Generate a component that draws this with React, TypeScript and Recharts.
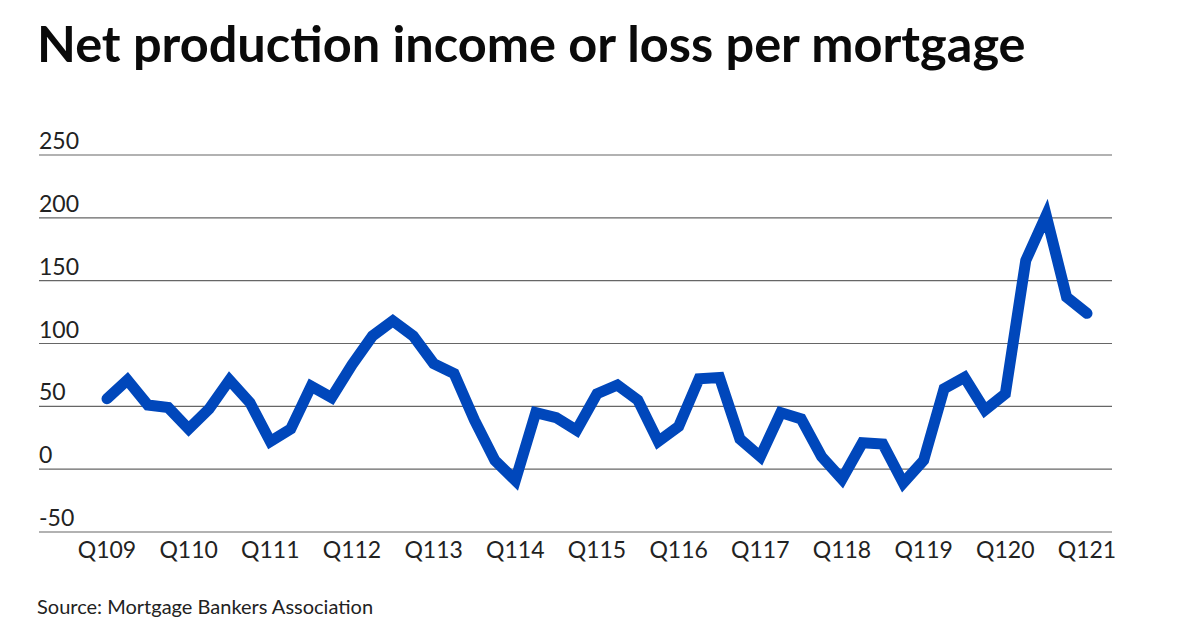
import { CartesianGrid, Line, LineChart, XAxis, YAxis } from "recharts";

const QUARTERS = [
  "Q109", "Q209", "Q309", "Q409",
  "Q110", "Q210", "Q310", "Q410",
  "Q111", "Q211", "Q311", "Q411",
  "Q112", "Q212", "Q312", "Q412",
  "Q113", "Q213", "Q313", "Q413",
  "Q114", "Q214", "Q314", "Q414",
  "Q115", "Q215", "Q315", "Q415",
  "Q116", "Q216", "Q316", "Q416",
  "Q117", "Q217", "Q317", "Q417",
  "Q118", "Q218", "Q318", "Q418",
  "Q119", "Q219", "Q319", "Q419",
  "Q120", "Q220", "Q320", "Q420",
  "Q121",
];

const INCOME = [
  56, 71, 51, 49, 32, 48, 71, 53, 22, 32, 66, 57,
  83, 106, 118, 106, 84, 76, 39, 7, -9, 45, 41, 31,
  60, 67, 55, 22, 34, 72, 73, 24, 10, 45, 40, 10,
  -8, 21, 20, -11, 7, 64, 73, 47, 60, 166, 202, 137,
  124,
];

const Y_TICKS = [-50, 0, 50, 100, 150, 200, 250];

const datos = QUARTERS.map((q, i) => ({ quarter: q, income: INCOME[i] }));

const FONT = "Lato, 'Noto Sans', sans-serif";
const PLOT_LEFT = 39;

function TickY({ y, payload }: { y?: number; payload?: { value: number } }) {
  return (
    <text
      x={PLOT_LEFT}
      y={(y ?? 0) - 6}
      textAnchor="start"
      fill="#222"
      fontSize={23}
      fontFamily={FONT}
    >
      {payload?.value}
    </text>
  );
}

export default function App() {
  return (
    <div
      style={{
        position: "fixed",
        left: 0,
        top: 0,
        width: 1200,
        height: 630,
        background: "#fff",
        fontFamily: FONT,
      }}
    >
      <div
        style={{
          position: "absolute",
          left: 37,
          top: 12,
          fontSize: 50.5,
          fontWeight: 700,
          color: "#0a0a0a",
          whiteSpace: "nowrap",
        }}
      >
        Net production income or loss per mortgage
      </div>

      <div style={{ position: "absolute", left: 0, top: 0 }}>
        <LineChart
          width={1200}
          height={630}
          data={datos}
          margin={{ top: 155, right: 88, bottom: 58, left: PLOT_LEFT - 1 }}
        >
          <CartesianGrid vertical={false} stroke="#666" strokeWidth={1.2} />
          <XAxis
            dataKey="quarter"
            interval={3}
            axisLine={false}
            tickLine={false}
            height={40}
            padding={{ left: 68, right: 25 }}
            tick={{ fill: "#222", fontSize: 23, fontFamily: FONT }}
            tickMargin={4}
          />
          <YAxis
            domain={[-50, 250]}
            ticks={Y_TICKS}
            width={1}
            axisLine={false}
            tickLine={false}
            tick={(props: any) => <TickY y={props.y} payload={props.payload} />}
          />
          <Line
            type="linear"
            dataKey="income"
            stroke="#0047BB"
            strokeWidth={11}
            strokeLinecap="round"
            dot={false}
            isAnimationActive={false}
          />
        </LineChart>
      </div>

      <div
        style={{
          position: "absolute",
          left: 37,
          top: 594,
          fontSize: 20,
          color: "#222",
          whiteSpace: "nowrap",
        }}
      >
        Source: Mortgage Bankers Association
      </div>
    </div>
  );
}
